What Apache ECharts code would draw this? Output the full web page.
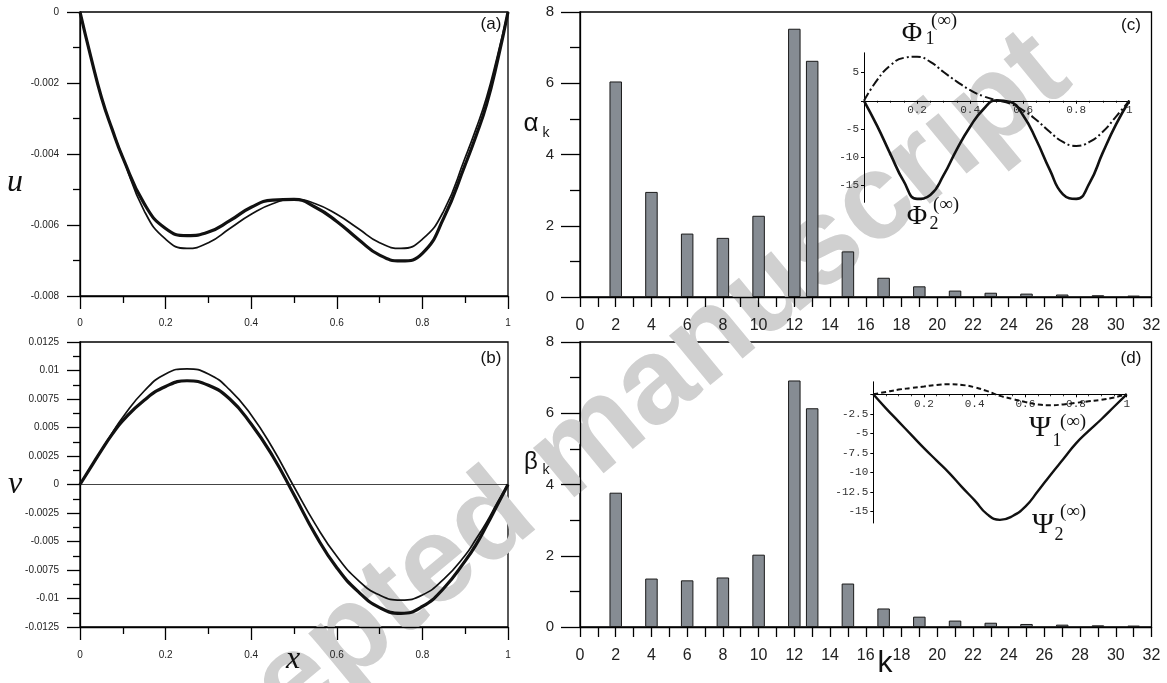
<!DOCTYPE html>
<html><head><meta charset="utf-8">
<script src="https://cdn.jsdelivr.net/npm/echarts@6/dist/echarts.min.js"></script>
<style>html,body{margin:0;padding:0;background:#fff}#c{width:1167px;height:683px}</style>
</head><body><div id="c"></div>
<script>
// ---------- data ----------
const xFine = [0, 0.025, 0.05, 0.075, 0.1, 0.15, 0.2, 0.25, 0.3, 0.35, 0.4, 0.45, 0.5, 0.55, 0.6, 0.65, 0.7, 0.75, 0.8, 0.85, 0.9, 0.925, 0.95, 0.975, 1];
const uThin  = [0, -0.00125, -0.0024, -0.0033, -0.0041, -0.0056, -0.0064, -0.00666, -0.0065, -0.0061, -0.0057, -0.0054, -0.00528, -0.0054, -0.0057, -0.0061, -0.0065, -0.00666, -0.0064, -0.0056, -0.0041, -0.0033, -0.0024, -0.00125, 0];
const uThick = [0, -0.00125, -0.0024, -0.0033, -0.0041, -0.0054, -0.0061, -0.0063, -0.0062, -0.00588, -0.0055, -0.0053, -0.00528, -0.0055, -0.0059, -0.0064, -0.00685, -0.00701, -0.0068, -0.0058, -0.0043, -0.0035, -0.0026, -0.0014, 0];
const vThin  = [0, 0.0015, 0.003, 0.0045, 0.0059, 0.0082, 0.0097, 0.01015, 0.0097, 0.0083, 0.0061, 0.0032, -0.0002, -0.0035, -0.0063, -0.0084, -0.0097, -0.01015, -0.0097, -0.0083, -0.0062, -0.0048, -0.0033, -0.0016, 0];
const vThick = [0, 0.0015, 0.003, 0.0044, 0.0056, 0.0074, 0.0086, 0.0091, 0.0087, 0.0075, 0.0053, 0.0025, -0.0009, -0.0044, -0.0073, -0.0094, -0.0108, -0.0113, -0.0107, -0.0091, -0.0067, -0.0053, -0.0036, -0.0018, 0];

const kVals  = [2, 4, 6, 8, 10, 12, 13, 15, 17, 19, 21, 23, 25, 27, 29, 31];
const alphaK = [6.05, 2.95, 1.78, 1.66, 2.28, 7.53, 6.63, 1.28, 0.54, 0.30, 0.18, 0.12, 0.095, 0.07, 0.05, 0.04];
const betaK  = [3.77, 1.36, 1.31, 1.39, 2.03, 6.92, 6.14, 1.22, 0.52, 0.29, 0.18, 0.12, 0.085, 0.066, 0.047, 0.04];

const xIns = [0, 0.05, 0.1, 0.15, 0.2, 0.25, 0.3, 0.35, 0.4, 0.45, 0.5, 0.55, 0.6, 0.65, 0.7, 0.75, 0.8, 0.85, 0.9, 0.95, 1];
const phi1 = [0, 3.7, 6.3, 7.6, 7.8, 6.9, 5.1, 3.4, 1.9, 0.8, 0.1, -0.5, -1.7, -3.4, -5.5, -7.3, -8.0, -7.3, -5.5, -2.8, 0];
const phi2 = [0, -4.5, -9.5, -14.3, -17.4, -16.7, -13.2, -8.6, -4.6, -1.5, 0.1, -0.2, -2.6, -7.0, -12.2, -16.6, -17.4, -14.6, -9.2, -4.2, 0];
const psi1 = [0, 0.3, 0.6, 0.8, 1.0, 1.2, 1.3, 1.2, 0.9, 0.4, -0.2, -0.6, -1.0, -1.3, -1.4, -1.3, -1.1, -0.9, -0.7, -0.4, 0];
const psi2 = [0, -1.8, -3.5, -5.2, -6.9, -8.5, -10.1, -11.9, -13.6, -15.4, -16.1, -15.6, -14.4, -12.4, -10.3, -8.3, -6.3, -4.7, -3.2, -1.6, 0];

const insCLabels = [5, -5, -10, -15];
const insCTicks  = [5, 0, -5, -10, -15];
const insDLabels = [-2.5, -5, -7.5, -10, -12.5, -15];
const insDTicks  = [0, -2.5, -5, -7.5, -10, -12.5, -15];

// ---------- helpers ----------
const SANS = 'Liberation Sans, Arial, sans-serif';
const SERIF = 'Liberation Serif, Times New Roman, serif';
const MONO = 'Liberation Mono, Courier New, monospace';
const BLK = '#000';
const pair = (xs, ys) => xs.map((x, i) => [x, ys[i]]);

function mainAxis(gi, min, max, interval, o) {
  return {
    gridIndex: gi, type: 'value', min, max, interval,
    axisLine: { onZero: false, lineStyle: { color: BLK, width: 1.3 } },
    axisTick: { length: o.tick, lineStyle: { color: BLK, width: 1.3 } },
    minorTick: { show: true, splitNumber: 2, length: o.minor, lineStyle: { color: BLK, width: 1.3 } },
    splitLine: { show: false }, minorSplitLine: { show: false },
    axisLabel: { fontSize: o.fs, color: '#222', margin: o.margin, fontFamily: SANS }
  };
}
function insetX(gi, offset) {
  return {
    gridIndex: gi, type: 'value', min: 0, max: 1, interval: 0.2, offset,
    axisLine: { onZero: false, lineStyle: { color: BLK, width: 1 } },
    axisTick: { length: 3, lineStyle: { color: BLK, width: 1 } },
    minorTick: { show: true, splitNumber: 4, length: 2, lineStyle: { color: BLK, width: 0.8 } },
    splitLine: { show: false },
    axisLabel: { showMinLabel: false, fontFamily: MONO, fontSize: 11, color: '#333', margin: 4 }
  };
}
function insetY(gi, min, max, labels, ticks) {
  return {
    gridIndex: gi, type: 'value', min, max,
    axisLine: { onZero: false, lineStyle: { color: BLK, width: 1 } },
    axisTick: { customValues: ticks, length: 3, lineStyle: { color: BLK, width: 1 } },
    splitLine: { show: false },
    axisLabel: { customValues: labels, fontFamily: MONO, fontSize: 11, color: '#333', margin: 5 }
  };
}
function line(xi, data, width, type) {
  return {
    type: 'line', xAxisIndex: xi, yAxisIndex: xi, data, smooth: true, symbol: 'none',
    lineStyle: { color: '#111', width, type: type || 'solid' }, z: 5, silent: true
  };
}
function bars(xi, data) {
  return {
    type: 'bar', xAxisIndex: xi, yAxisIndex: xi, data, barWidth: 12.5,
    itemStyle: { color: '#868c93', borderColor: '#1a1a1a', borderWidth: 1 }, z: 3, silent: true
  };
}
function txt(text, x, y, font, extra) {
  return {
    type: 'text', x, y, z: 10, silent: true,
    style: Object.assign({ text, font, fill: '#111', textAlign: 'center', textVerticalAlign: 'middle' }, extra || {})
  };
}

const chart = echarts.init(document.getElementById('c'), null, { renderer: 'canvas' });
const boxed = { show: true, borderColor: BLK, borderWidth: 1.3, backgroundColor: 'transparent' };

chart.setOption({
  animation: false,
  backgroundColor: '#fff',
  grid: [
    Object.assign({ left: 80, top: 12, width: 428, height: 284 }, boxed),
    Object.assign({ left: 80, top: 342, width: 428, height: 285 }, boxed),
    Object.assign({ left: 580, top: 12, width: 571.5, height: 285 }, boxed),
    Object.assign({ left: 580, top: 342, width: 571.5, height: 285 }, boxed),
    { left: 864, top: 52.8, width: 265.3, height: 149.5, show: false },
    { left: 873.3, top: 381.8, width: 253.4, height: 141.2, show: false }
  ],
  xAxis: [
    mainAxis(0, 0, 1, 0.2, { tick: 13, minor: 7, fs: 10, margin: 22 }),
    mainAxis(1, 0, 1, 0.2, { tick: 13, minor: 7, fs: 10, margin: 23 }),
    mainAxis(2, 0, 32, 2, { tick: 10, minor: 10, fs: 16, margin: 21 }),
    mainAxis(3, 0, 32, 2, { tick: 10, minor: 10, fs: 16, margin: 21 }),
    insetX(4, -101.55), insetX(5, -128.7)
  ],
  yAxis: [
    mainAxis(0, -0.008, 0, 0.002, { tick: 13, minor: 7, fs: 10, margin: 21 }),
    mainAxis(1, -0.0125, 0.0125, 0.0025, { tick: 13, minor: 7, fs: 10, margin: 21 }),
    mainAxis(2, 0, 8, 2, { tick: 19, minor: 10, fs: 15, margin: 26 }),
    mainAxis(3, 0, 8, 2, { tick: 19, minor: 10, fs: 15, margin: 26 }),
    insetY(4, -18, 8.5, insCLabels, insCTicks),
    insetY(5, -16.5, 1.6, insDLabels, insDTicks)
  ],
  series: [
    line(0, pair(xFine, uThin), 1.7),
    line(0, pair(xFine, uThick), 3.2),
    Object.assign(line(1, pair(xFine, vThin), 1.7), {
      markLine: { silent: true, symbol: 'none', label: { show: false },
        lineStyle: { color: '#444', width: 1, type: 'solid' }, data: [{ yAxis: 0 }] }
    }),
    line(1, pair(xFine, vThick), 3.2),
    bars(2, pair(kVals, alphaK)),
    bars(3, pair(kVals, betaK)),
    line(4, pair(xIns, phi1), 2, [9, 3, 2, 3]),
    line(4, pair(xIns, phi2), 2.6),
    line(5, pair(xIns, psi1), 2, [5, 3]),
    line(5, pair(xIns, psi2), 2.4)
  ],
  graphic: [
    { type: 'text', x: 575, y: 453, rotation: 0.69, z: 0, silent: true,
      style: { text: 'Accepted manuscript', font: 'bold 122px ' + SANS, fill: '#d0d0d0', textAlign: 'center', textVerticalAlign: 'middle' } },
    txt('u', 15, 183, 'italic 32px ' + SERIF),
    txt('v', 15, 485, 'italic 32px ' + SERIF),
    txt('x', 293, 660, 'italic 32px ' + SERIF),
    txt('(a)', 491, 24, '17px ' + SANS),
    txt('(b)', 491, 358, '17px ' + SANS),
    txt('(c)', 1131, 25, '17px ' + SANS),
    txt('(d)', 1131, 358, '17px ' + SANS),
    txt('α', 531, 124, '26px ' + SANS),
    txt('k', 546, 133, '14px ' + SANS),
    txt('β', 531, 462, '24px ' + SANS),
    txt('k', 546, 470, '14px ' + SANS),
    txt('k', 885, 664, '30px ' + SANS),
    txt('Φ', 912, 34, '28px ' + SERIF),
    txt('1', 930, 39, '18px ' + SERIF),
    txt('(∞)', 944, 21, '19px ' + SERIF),
    txt('Φ', 917, 217, '28px ' + SERIF),
    txt('2', 934, 224, '18px ' + SERIF),
    txt('(∞)', 946, 205, '19px ' + SERIF),
    txt('Ψ', 1040, 428, '30px ' + SERIF),
    txt('1', 1057, 441, '18px ' + SERIF),
    txt('(∞)', 1073, 422, '19px ' + SERIF),
    txt('Ψ', 1043, 525, '30px ' + SERIF),
    txt('2', 1059, 535, '18px ' + SERIF),
    txt('(∞)', 1073, 512, '19px ' + SERIF)
  ]
});
</script></body></html>
